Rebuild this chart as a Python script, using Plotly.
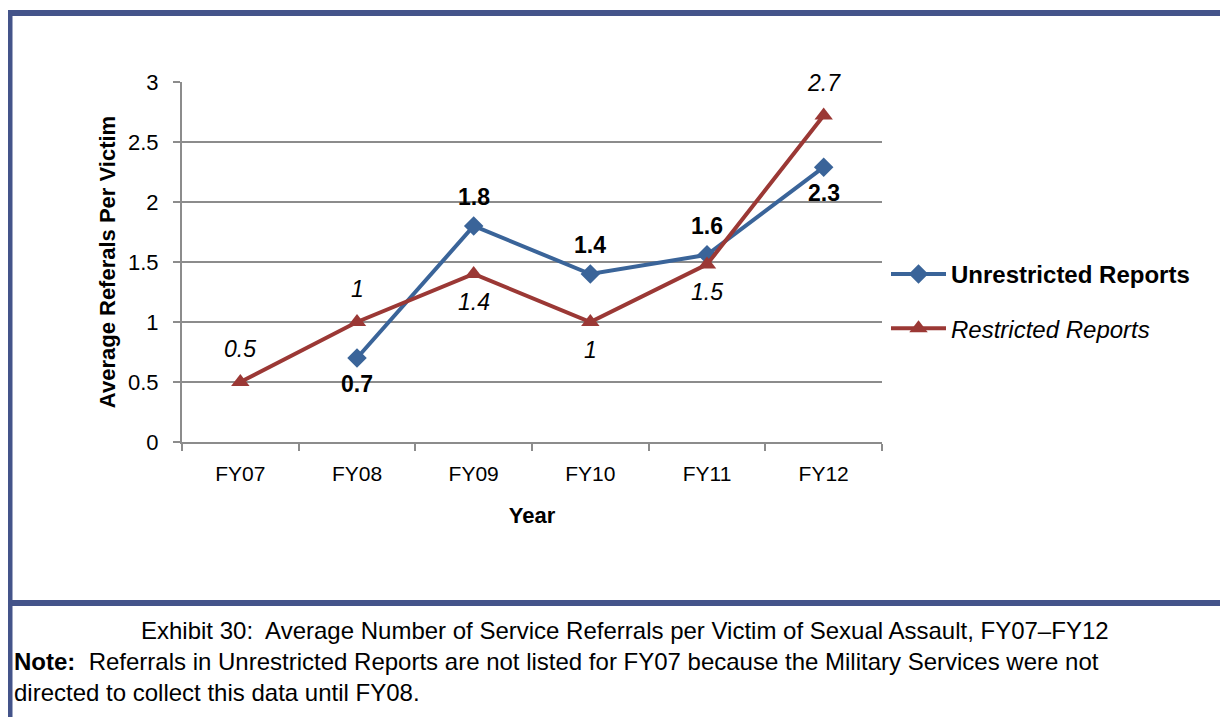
import plotly.graph_objects as go

years = ["FY07", "FY08", "FY09", "FY10", "FY11", "FY12"]
unrestricted = [None, 0.7, 1.8, 1.4, 1.56, 2.29]
unrestricted_labels = ["", "0.7", "1.8", "1.4", "1.6", "2.3"]
unrestricted_above = [True, False, True, True, True, False]
restricted = [0.5, 1.0, 1.4, 1.0, 1.48, 2.72]
restricted_labels = ["0.5", "1", "1.4", "1", "1.5", "2.7"]
restricted_above = [True, True, False, False, False, True]

FONT = "Liberation Sans, Arial, sans-serif"
BLUE = "#3A6499"
RED = "#9B3835"
FRAME = "#44548A"
GRID = "#8C8C8C"

# page body adds an 8px offset; work in screen pixels and convert
OFF = 8
W, H = 1228 - OFF, 717 - OFF
L, R, T, B = 182, 882, 82, 442  # plot area in screen pixels


def px(x):
    return (x - L) / (R - L)


def py(y):
    return (B - y) / (B - T)


fig = go.Figure()
fig.add_trace(go.Scatter(
    x=years, y=unrestricted, mode="lines+markers", name="<b>Unrestricted Reports</b>",
    legendgroup="u",
    line=dict(color=BLUE, width=4),
    marker=dict(symbol="diamond", size=15, color=BLUE),
))
fig.add_trace(go.Scatter(
    x=years, y=restricted, mode="lines+markers", name="<i>Restricted Reports</i>",
    legendgroup="r",
    line=dict(color=RED, width=4),
    marker=dict(symbol="triangle-up", size=16, color=RED),
))

annotations = []
for xv, yv, lab, up in zip(years, unrestricted, unrestricted_labels, unrestricted_above):
    if yv is None:
        continue
    annotations.append(dict(x=xv, y=yv, xref="x", yref="y", text=f"<b>{lab}</b>", showarrow=False,
                            yshift=29 if up else -26, yanchor="middle",
                            font=dict(family=FONT, size=23, color="black")))
for xv, yv, lab, up in zip(years, restricted, restricted_labels, restricted_above):
    annotations.append(dict(x=xv, y=yv, xref="x", yref="y", text=f"<i>{lab}</i>", showarrow=False,
                            yshift=33 if up else -28, yanchor="middle",
                            font=dict(family=FONT, size=23, color="black")))

annotations += [
    dict(text="Exhibit 30:  Average Number of Service Referrals per Victim of Sexual Assault, FY07–FY12",
         xref="paper", yref="paper", x=px(625), y=py(630), xanchor="center", yanchor="middle",
         showarrow=False, font=dict(family=FONT, size=24, color="black")),
    dict(text="<b>Note:</b>  Referrals in Unrestricted Reports are not listed for FY07 because the Military Services were not"
              "<br>directed to collect this data until FY08.",
         xref="paper", yref="paper", x=px(12), y=py(677), xanchor="left", yanchor="middle", align="left",
         showarrow=False, font=dict(family=FONT, size=24, color="black")),
]

shapes = [
    dict(type="line", xref="paper", yref="paper", x0=px(9.5), x1=px(9.5), y0=py(10), y1=py(760),
         line=dict(color=FRAME, width=6)),
    dict(type="line", xref="paper", yref="paper", x0=px(7), x1=px(1260), y0=py(13), y1=py(13),
         line=dict(color=FRAME, width=6)),
    dict(type="line", xref="paper", yref="paper", x0=px(10), x1=px(1260), y0=py(603), y1=py(603),
         line=dict(color=FRAME, width=6)),
]

fig.update_layout(
    width=W, height=H,
    margin=dict(l=L - OFF, r=1228 - R, t=T - OFF, b=717 - B),
    paper_bgcolor="white", plot_bgcolor="white",
    font=dict(family=FONT, color="black"),
    shapes=shapes, annotations=annotations,
    legend=dict(x=px(886), y=py(252), xanchor="left", yanchor="top",
                font=dict(family=FONT, size=24, color="black"),
                traceorder="grouped", tracegroupgap=20, itemwidth=55,
                bgcolor="rgba(0,0,0,0)"),
    xaxis=dict(
        range=[-0.5, 5.5], showline=True, linecolor=GRID, linewidth=2,
        ticks="outside", tickson="boundaries", ticklen=7, tickcolor=GRID, tickwidth=2,
        showgrid=False, tickfont=dict(family=FONT, size=21, color="black"), ticklabelstandoff=12,
        title=dict(text="<b>Year</b>", font=dict(family=FONT, size=22, color="black"), standoff=23),
    ),
    yaxis=dict(
        range=[0, 3], dtick=0.5, showline=True, linecolor=GRID, linewidth=2,
        ticks="outside", ticklen=7, tickcolor=GRID, tickwidth=2,
        showgrid=True, gridcolor=GRID, gridwidth=2, zeroline=False,
        tickfont=dict(family=FONT, size=22, color="black"), ticklabelstandoff=10,
        title=dict(text="<b>Average Referals Per Victim</b>", font=dict(family=FONT, size=22, color="black"),
                   standoff=6),
    ),
)

fig.write_html("out.html")
